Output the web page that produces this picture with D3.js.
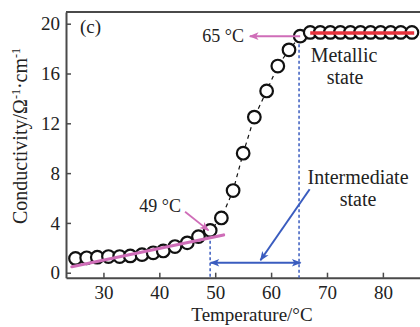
<!DOCTYPE html>
<html>
<head>
<meta charset="utf-8">
<script src="https://cdn.jsdelivr.net/npm/d3@7"></script>
<style>
  html, body { margin: 0; padding: 0; background: #ffffff; }
  svg { display: block; }
  text { font-family: "Liberation Serif", "Times New Roman", serif; fill: #222; }
</style>
</head>
<body>
<svg id="chart" width="420" height="327"></svg>
<script>
// Temperature (°C) and conductivity (Ω⁻¹·cm⁻¹) readings
const temperature = [25.0, 27.0, 28.9, 30.9, 32.9, 34.8, 36.9, 38.9, 40.7, 42.8, 45.0, 47.0,
  49.1, 51.1, 53.2, 55.0, 57.0, 59.2, 61.2, 63.2, 65.2, 67.0, 68.8, 70.6, 72.4, 74.2,
  76.0, 77.8, 79.6, 81.4, 83.2, 85.2];
const conductivity = [1.15, 1.2, 1.25, 1.3, 1.3, 1.35, 1.45, 1.6, 1.75, 2.1, 2.4, 2.9,
  3.4, 4.4, 6.6, 9.6, 12.5, 14.6, 16.6, 17.9, 19.0, 19.3, 19.3, 19.3, 19.3, 19.3,
  19.3, 19.3, 19.3, 19.3, 19.3, 19.3];

const xTicks = [30, 40, 50, 60, 70, 80];
const yTicks = [0, 4, 8, 12, 16, 20];

// Linear fits of the semiconducting and metallic regions
const lowFit = [[24.35, 0.48], [51.5, 3.03]];
const metalFit = [[67.0, 19.25], [85.6, 19.25]];

// Transition temperatures
const tStart = 49;
const tEnd = 65;

const svg = d3.select("#chart");
const x = d3.scaleLinear().domain([23.3, 87]).range([66, 422]);
const y = d3.scaleLinear().domain([-0.4, 20.94]).range([277.7, 12]);

const pink = "#cf6db8", red = "#e8323c", blue = "#3a5cbf", axisCol = "#4a4a4a";

const defs = svg.append("defs");
function marker(id, color, size) {
  defs.append("marker")
    .attr("id", id).attr("viewBox", "0 0 10 10")
    .attr("refX", 9).attr("refY", 5)
    .attr("markerWidth", size).attr("markerHeight", size * 0.8)
    .attr("markerUnits", "userSpaceOnUse")
    .attr("orient", "auto-start-reverse")
    .append("path").attr("d", "M0,1 L10,5 L0,9 L2.5,5 Z").attr("fill", color);
}
marker("arrPink", pink, 12);
marker("arrBlue", blue, 12);

// Axes
const xAxis = d3.axisBottom(x).tickValues(xTicks).tickSizeInner(-5).tickSizeOuter(0).tickPadding(8);
const yAxis = d3.axisLeft(y).tickValues(yTicks).tickSizeInner(-5).tickSizeOuter(0).tickPadding(6);

const gx = svg.append("g").attr("transform", `translate(0,${y.range()[0]})`).call(xAxis);
const gy = svg.append("g").attr("transform", `translate(${x.range()[0]},0)`).call(yAxis);
[gx, gy].forEach(g => {
  g.select(".domain").attr("stroke", axisCol).attr("stroke-width", 2);
  g.selectAll(".tick line").attr("stroke", axisCol).attr("stroke-width", 1.5);
  g.selectAll(".tick text").attr("font-size", 19).attr("fill", "#222")
    .style("font-family", '"Liberation Serif", "Times New Roman", serif');
});
// top frame
svg.append("line")
  .attr("x1", x.range()[0]).attr("x2", x.range()[1])
  .attr("y1", y.range()[1]).attr("y2", y.range()[1])
  .attr("stroke", axisCol).attr("stroke-width", 2);

// Axis titles
svg.append("text")
  .attr("x", 252).attr("y", 321)
  .attr("text-anchor", "middle").attr("font-size", 19)
  .text("Temperature/°C");

const yl = svg.append("text")
  .attr("transform", "translate(27,136) rotate(-90)")
  .attr("text-anchor", "middle").attr("font-size", 20);
yl.append("tspan").text("Conductivity/Ω");
yl.append("tspan").attr("baseline-shift", "super").attr("font-size", 12).text("-1");
yl.append("tspan").text("·cm");
yl.append("tspan").attr("baseline-shift", "super").attr("font-size", 12).text("-1");

svg.append("text").attr("x", 80).attr("y", 33).attr("font-size", 19).text("(c)");

// Transition markers (blue dotted verticals)
svg.append("line")
  .attr("x1", x(tStart) + 0.5).attr("x2", x(tStart) + 0.5)
  .attr("y1", y(3.0)).attr("y2", y.range()[0])
  .attr("stroke", blue).attr("stroke-width", 1.5).attr("stroke-dasharray", "3,2.5");
svg.append("line")
  .attr("x1", x(tEnd)).attr("x2", x(tEnd))
  .attr("y1", y(18.8)).attr("y2", y.range()[0])
  .attr("stroke", blue).attr("stroke-width", 1.5).attr("stroke-dasharray", "3,2.5");

// Dashed curve through the data
const pts = temperature.map((t, i) => [t, conductivity[i]]);
svg.append("path")
  .attr("d", d3.line().x(d => x(d[0])).y(d => y(d[1]))(pts))
  .attr("fill", "none").attr("stroke", "#111").attr("stroke-width", 1.2)
  .attr("stroke-dasharray", "4,4");

// Data markers
svg.append("g").selectAll("circle").data(pts).join("circle")
  .attr("cx", d => x(d[0])).attr("cy", d => y(d[1])).attr("r", 6.3)
  .attr("fill", "#fff").attr("stroke", "#111").attr("stroke-width", 2.2);

// Fit lines
svg.append("line")
  .attr("x1", x(lowFit[0][0])).attr("y1", y(lowFit[0][1]))
  .attr("x2", x(lowFit[1][0])).attr("y2", y(lowFit[1][1]))
  .attr("stroke", pink).attr("stroke-width", 3.2).attr("stroke-linecap", "round");
svg.append("line")
  .attr("x1", x(metalFit[0][0])).attr("y1", y(metalFit[0][1]))
  .attr("x2", x(metalFit[1][0])).attr("y2", y(metalFit[1][1]))
  .attr("stroke", red).attr("stroke-width", 3.5);

// Intermediate range double arrow
svg.append("line")
  .attr("x1", x(tStart) + 1).attr("x2", x(tEnd) + 1.5)
  .attr("y1", y(0.8)).attr("y2", y(0.8))
  .attr("stroke", blue).attr("stroke-width", 2)
  .attr("marker-start", "url(#arrBlue)").attr("marker-end", "url(#arrBlue)");

// Pointer from the "Intermediate state" label
svg.append("line")
  .attr("x1", x(66.9)).attr("y1", y(6.7))
  .attr("x2", x(58.1)).attr("y2", y(1.0))
  .attr("stroke", blue).attr("stroke-width", 2)
  .attr("marker-end", "url(#arrBlue)");

// 49 °C pointer
svg.append("line")
  .attr("x1", x(44.6)).attr("y1", y(4.9))
  .attr("x2", x(48.8)).attr("y2", y(3.4))
  .attr("stroke", pink).attr("stroke-width", 1.8)
  .attr("marker-end", "url(#arrPink)");
svg.append("text").attr("x", 181).attr("y", 212).attr("text-anchor", "end")
  .attr("font-size", 18).text("49 °C");

// 65 °C pointer
svg.append("line")
  .attr("x1", x(65.2)).attr("y1", y(19.0))
  .attr("x2", x(56.2)).attr("y2", y(19.0))
  .attr("stroke", pink).attr("stroke-width", 2)
  .attr("marker-end", "url(#arrPink)");
svg.append("text").attr("x", 244).attr("y", 42).attr("text-anchor", "end")
  .attr("font-size", 18).text("65 °C");

// State labels
svg.append("text").attr("x", 344).attr("y", 62).attr("text-anchor", "middle")
  .attr("font-size", 20).text("Metallic");
svg.append("text").attr("x", 345).attr("y", 84).attr("text-anchor", "middle")
  .attr("font-size", 20).text("state");
svg.append("text").attr("x", 358).attr("y", 184).attr("text-anchor", "middle")
  .attr("font-size", 20).text("Intermediate");
svg.append("text").attr("x", 358).attr("y", 206).attr("text-anchor", "middle")
  .attr("font-size", 20).text("state");
</script>
</body>
</html>
